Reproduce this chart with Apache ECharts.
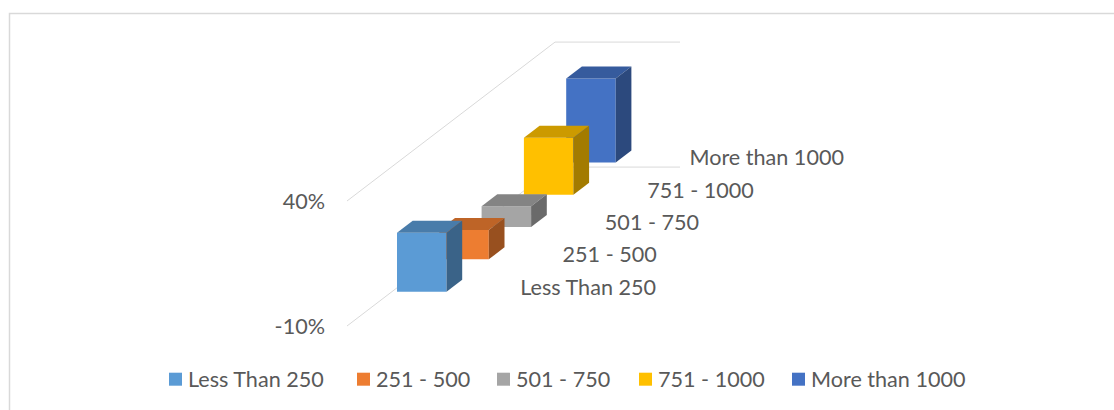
<!DOCTYPE html>
<html>
<head>
<meta charset="utf-8">
<title>Income groups</title>
<script src="https://cdn.jsdelivr.net/npm/echarts@6/dist/echarts.min.js"></script>
<style>
  html, body { margin: 0; padding: 0; background: #ffffff; }
  #chart { width: 1114px; height: 410px; }
</style>
</head>
<body>
<div id="chart"></div>
<script>
// ---- data ----
const categories = ['Less Than 250', '251 - 500', '501 - 750', '751 - 1000', 'More than 1000'];
const shares = [23.6, 11.7, 8.3, 22.8, 33.6];          // percent of respondents
const valueAxisMin = -10;
const valueAxisMax = 40;
const valueAxisStep = 50;

// ---- styling / layout ----
const colors = ['#5B9BD5', '#ED7D31', '#A5A5A5', '#FFC000', '#4472C4'];
const TEXT = '#595959';
const FONT = 'Lato, "Open Sans", sans-serif';
const FONT_SIZE = 21.6;
const GRID_LINE = '#d9d9d9';

// oblique 3D projection (all lengths in screen px of horizontal travel)
const VIEW = {
  wallWidth: 125,     // x-axis span of the back wall
  skew: 0.764,        // upward rise per px of depth
  rowPitch: 42.3,     // depth between category rows
  barFront: 12.2,     // depth before the first bar's front face
  barDepth: 15.7,     // depth of each column
  barLeft: 37.8,      // column left edge on the x axis
  barRight: 87.3,     // column right edge on the x axis
  wallDepth: 208,     // total depth of the side wall
  labelGap: 28.2      // gap from floor edge to the row labels
};
const LEGEND_LEFT = [169, 357, 497, 639, 792];

function project(p, d) {
  return [p[0] + d, p[1] - d * VIEW.skew];
}
function shade(hex, f) {
  const n = parseInt(hex.slice(1), 16);
  const r = Math.round(((n >> 16) & 255) * f);
  const g = Math.round(((n >> 8) & 255) * f);
  const b = Math.round((n & 255) * f);
  return 'rgb(' + r + ',' + g + ',' + b + ')';
}

// side wall gridlines that turn along the back wall
function renderWalls(params, api) {
  const children = [];
  [valueAxisMin, valueAxisMax].forEach(function (v) {
    const a = api.coord([0, v]);
    const b = project(a, VIEW.wallDepth);
    const w = api.coord([VIEW.wallWidth, v])[0] - a[0];
    children.push({
      type: 'polyline',
      shape: { points: [a, b, [b[0] + w, b[1]]] },
      style: { stroke: GRID_LINE, lineWidth: 1, fill: null }
    });
  });
  return { type: 'group', children: children };
}

// one 3D column: front, top and right faces
function renderColumn(params, api) {
  const row = api.value(0);
  const v = api.value(1);
  const color = api.visual('color');
  const d0 = VIEW.barFront + row * VIEW.rowPitch;
  const bd = VIEW.barDepth;
  const lb = project(api.coord([VIEW.barLeft, 0]), d0);
  const lt = project(api.coord([VIEW.barLeft, v]), d0);
  const rb = project(api.coord([VIEW.barRight, 0]), d0);
  const rt = project(api.coord([VIEW.barRight, v]), d0);
  return {
    type: 'group',
    children: [
      { type: 'polygon', shape: { points: [lb, rb, rt, lt] }, style: { fill: color } },
      { type: 'polygon', shape: { points: [lt, rt, project(rt, bd), project(lt, bd)] }, style: { fill: shade(color, 0.8) } },
      { type: 'polygon', shape: { points: [rb, rt, project(rt, bd), project(rb, bd)] }, style: { fill: shade(color, 0.64) } }
    ]
  };
}

// category names along the depth axis
function renderDepthLabels(params, api) {
  const row = api.value(0);
  const d = VIEW.barFront + row * VIEW.rowPitch + VIEW.barDepth / 2;
  const p = project(api.coord([VIEW.wallWidth, 0]), d);
  return {
    type: 'text',
    x: p[0] + VIEW.labelGap,
    y: p[1] + 1,
    style: {
      text: categories[row],
      fill: TEXT,
      fontSize: FONT_SIZE,
      fontFamily: FONT,
      align: 'left',
      verticalAlign: 'middle'
    }
  };
}

const series = [
  { type: 'custom', name: 'walls', renderItem: renderWalls, data: [[0, 0]], z: 1, silent: true }
];
categories.forEach(function (name, i) {
  series.push({
    type: 'custom',
    name: name,
    renderItem: renderColumn,
    data: [[i, shares[i]]],
    itemStyle: { color: colors[i] },
    z: 10 - i
  });
});
series.push({
  type: 'custom', name: 'rows', renderItem: renderDepthLabels,
  data: categories.map(function (c, i) { return [i, 0]; }), z: 20, silent: true
});

const legends = categories.map(function (name, i) {
  return {
    data: [name],
    left: LEGEND_LEFT[i],
    top: 368.2,
    padding: 0,
    icon: 'rect',
    itemWidth: 13,
    itemHeight: 13,
    selectedMode: false,
    textStyle: { color: TEXT, fontSize: FONT_SIZE, fontFamily: FONT, padding: [0, 0, 0, 1] }
  };
});

const chart = echarts.init(document.getElementById('chart'), null, { renderer: 'svg' });
chart.setOption({
  animation: false,
  backgroundColor: '#ffffff',
  color: colors,
  graphic: [{
    type: 'rect',
    left: 7, top: 11,
    shape: { x: 0, y: 0, width: 1200, height: 500 },
    style: { fill: null, stroke: GRID_LINE, lineWidth: 1.5 },
    silent: true
  }],
  grid: { left: 347, top: 201, width: VIEW.wallWidth, height: 125 },
  xAxis: { type: 'value', min: 0, max: VIEW.wallWidth, show: false },
  yAxis: {
    type: 'value',
    min: valueAxisMin,
    max: valueAxisMax,
    interval: valueAxisStep,
    axisLine: { show: false },
    axisTick: { show: false },
    splitLine: { show: false },
    axisLabel: {
      formatter: '{value}%',
      color: TEXT,
      fontSize: FONT_SIZE,
      fontFamily: FONT,
      margin: 22
    }
  },
  legend: legends,
  series: series
});
</script>
</body>
</html>
